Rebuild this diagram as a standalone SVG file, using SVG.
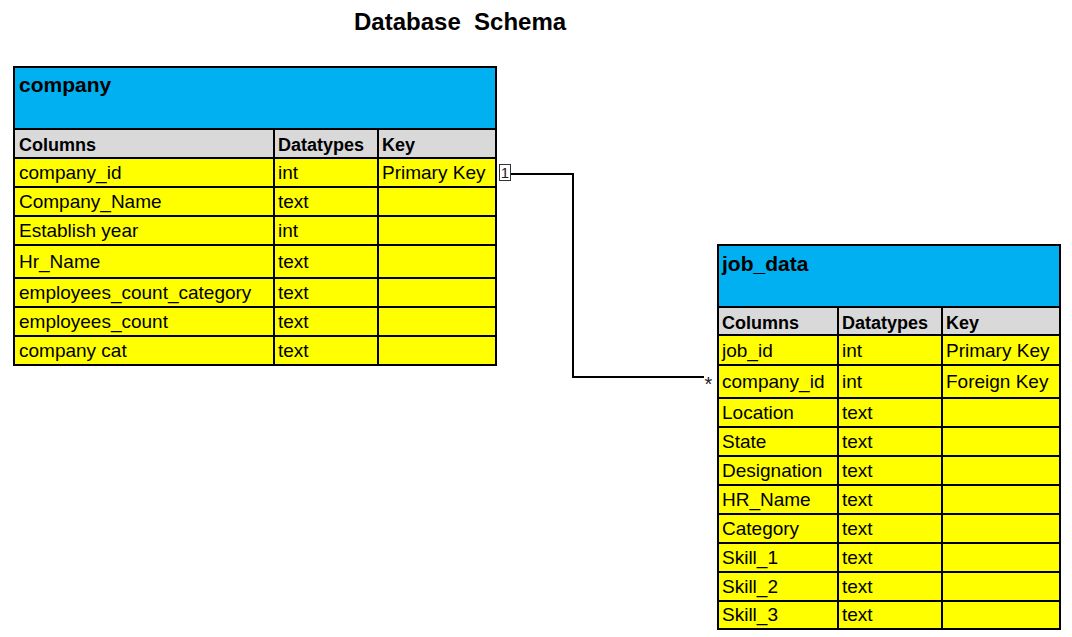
<svg xmlns="http://www.w3.org/2000/svg" width="1072" height="637" viewBox="0 0 1072 637">
<style>
  .title{font-family:"Liberation Sans",Arial,sans-serif;font-weight:bold;font-size:24px;fill:#000;white-space:pre}
  .tname{font-family:"Liberation Sans",Arial,sans-serif;font-weight:bold;font-size:21px;fill:#000}
  .hdr{font-family:"Liberation Sans",Arial,sans-serif;font-weight:bold;font-size:18px;fill:#000}
  .cell{font-family:"Liberation Sans",Arial,sans-serif;font-size:19px;fill:#000}
  .blue{fill:#00B0F0}
  .gray{fill:#D9D9D9}
  .yellow{fill:#FFFF00}
  .grid{stroke:#000;stroke-width:2;fill:none}
  .conn{stroke:#000;stroke-width:2;fill:none}
  .mark{font-family:"Liberation Sans",Arial,sans-serif;fill:#222}
</style>
<rect width="1072" height="637" fill="#fff"/>
<text class="title" x="354" y="30">Database  Schema</text>

<g id="company">
  <rect class="blue" x="14" y="67" width="482" height="62"/>
  <rect class="gray" x="14" y="129" width="482" height="29"/>
  <rect class="yellow" x="14" y="158" width="482" height="207"/>
  <rect class="grid" x="14" y="67" width="482" height="298"/>
  <path class="grid" d="M14 129H496M14 158H496M14 187H496M14 216H496M14 245H496M14 278H496M14 307H496M14 336H496M274 129V365M378 129V365"/>
  <text class="tname" x="19" y="92">company</text>
  <text class="hdr" x="19" y="151">Columns</text>
  <text class="hdr" x="278" y="151">Datatypes</text>
  <text class="hdr" x="382" y="151">Key</text>
  <text class="cell" x="19" y="179">company_id</text>
  <text class="cell" x="278" y="179">int</text>
  <text class="cell" x="382" y="179">Primary Key</text>
  <text class="cell" x="19" y="208">Company_Name</text>
  <text class="cell" x="278" y="208">text</text>
  <text class="cell" x="19" y="237">Establish year</text>
  <text class="cell" x="278" y="237">int</text>
  <text class="cell" x="19" y="268">Hr_Name</text>
  <text class="cell" x="278" y="268">text</text>
  <text class="cell" x="19" y="299">employees_count_category</text>
  <text class="cell" x="278" y="299">text</text>
  <text class="cell" x="19" y="328">employees_count</text>
  <text class="cell" x="278" y="328">text</text>
  <text class="cell" x="19" y="357">company cat</text>
  <text class="cell" x="278" y="357">text</text>
</g>

<g id="job_data">
  <rect class="blue" x="718" y="245" width="342" height="62"/>
  <rect class="gray" x="718" y="307" width="342" height="28"/>
  <rect class="yellow" x="718" y="335" width="342" height="294"/>
  <rect class="grid" x="718" y="245" width="342" height="384"/>
  <path class="grid" d="M718 307H1060M718 335H1060M718 365H1060M718 398H1060M718 427H1060M718 456H1060M718 485H1060M718 514H1060M718 543H1060M718 572H1060M718 601H1060M838 307V629M942 307V629"/>
  <text class="tname" x="722" y="271">job_data</text>
  <text class="hdr" x="722" y="329">Columns</text>
  <text class="hdr" x="842" y="329">Datatypes</text>
  <text class="hdr" x="946" y="329">Key</text>
  <text class="cell" x="722" y="357">job_id</text>
  <text class="cell" x="842" y="357">int</text>
  <text class="cell" x="946" y="357">Primary Key</text>
  <text class="cell" x="722" y="388">company_id</text>
  <text class="cell" x="842" y="388">int</text>
  <text class="cell" x="946" y="388">Foreign Key</text>
  <text class="cell" x="722" y="419">Location</text>
  <text class="cell" x="842" y="419">text</text>
  <text class="cell" x="722" y="448">State</text>
  <text class="cell" x="842" y="448">text</text>
  <text class="cell" x="722" y="477">Designation</text>
  <text class="cell" x="842" y="477">text</text>
  <text class="cell" x="722" y="506">HR_Name</text>
  <text class="cell" x="842" y="506">text</text>
  <text class="cell" x="722" y="535">Category</text>
  <text class="cell" x="842" y="535">text</text>
  <text class="cell" x="722" y="564">Skill_1</text>
  <text class="cell" x="842" y="564">text</text>
  <text class="cell" x="722" y="593">Skill_2</text>
  <text class="cell" x="842" y="593">text</text>
  <text class="cell" x="722" y="621">Skill_3</text>
  <text class="cell" x="842" y="621">text</text>
</g>

<g id="connectors">
  <path class="conn" d="M510 174H573V377H704"/>
  <rect x="499.5" y="164.5" width="11" height="16" fill="#fff" stroke="#333" stroke-width="1"/>
  <text class="mark" x="505" y="178" text-anchor="middle" font-size="15">1</text>
  <text class="mark" x="708.5" y="391" text-anchor="middle" font-size="20">*</text>
</g>
</svg>
